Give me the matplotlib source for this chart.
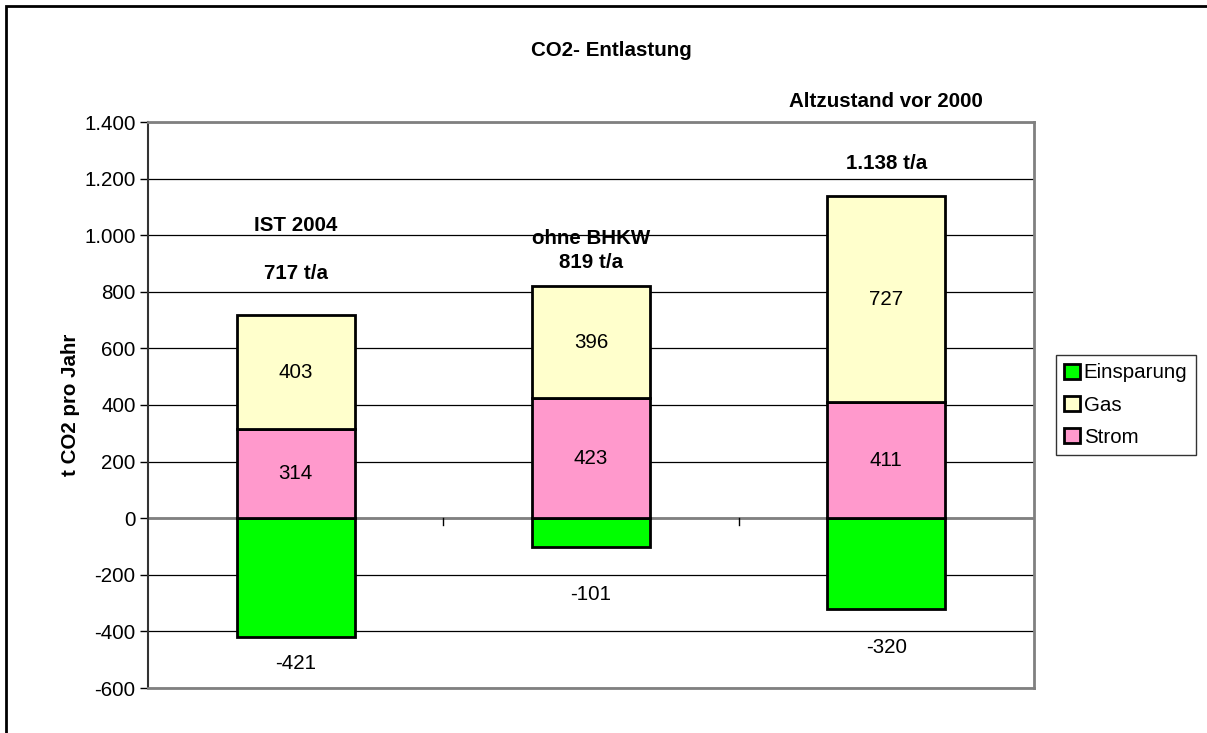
import matplotlib
matplotlib.use("Agg")
import matplotlib.pyplot as plt
from matplotlib.patches import Rectangle

plt.rcParams['font.family'] = ['Liberation Sans', 'DejaVu Sans']

categories = ["IST 2004", "ohne BHKW", "Altzustand vor 2000"]
totals_text = ["717 t/a", "819 t/a", "1.138 t/a"]
einsparung = [-421, -101, -320]
strom = [314, 423, 411]
gas = [403, 396, 727]
yticks = [-600, -400, -200, 0, 200, 400, 600, 800, 1000, 1200, 1400]
ytick_labels = ["-600", "-400", "-200", "0", "200", "400", "600", "800", "1.000", "1.200", "1.400"]

# label positions (data units)
cat_label_y = [1035, 989, 1471]
total_label_y = [865, 904, 1255]
neg_label_offset = [93, 168, 137]

FS = 14.8
W, H = 1207, 733
fig = plt.figure(figsize=(W / 100, H / 100), dpi=100)
fig.patches.append(Rectangle((6 / W, -0.1), 1.2, 1 - 6 / H + 0.1, transform=fig.transFigure,
                             fill=False, edgecolor='black', linewidth=2))

ax = fig.add_axes([148 / W, 1 - 688 / H, 886 / W, 566 / H])
x = list(range(len(categories)))
bw = 0.4
c_green, c_gas, c_strom = '#00FF00', '#FFFFCC', '#FF99CC'

ax.bar(x, einsparung, bw, color=c_green, edgecolor='black', linewidth=2, label='Einsparung', zorder=3)
ax.bar(x, strom, bw, color=c_strom, edgecolor='black', linewidth=2, label='Strom', zorder=3)
ax.bar(x, gas, bw, bottom=strom, color=c_gas, edgecolor='black', linewidth=2, label='Gas', zorder=3)

ax.set_xlim(-0.5, 2.5)
ax.set_ylim(-600, 1400)
ax.set_yticks(yticks)
ax.set_yticklabels(ytick_labels, fontsize=FS)
ax.yaxis.grid(True, color='black', linewidth=0.9, zorder=0)
ax.set_axisbelow(True)
ax.set_xticks([])

for s in ['top', 'right', 'bottom']:
    ax.spines[s].set_color('#808080')
    ax.spines[s].set_linewidth(2)
ax.spines['left'].set_color('#333333')
ax.spines['left'].set_linewidth(1.5)
ax.tick_params(axis='y', length=6, width=1, pad=3)

# zero line and category separators
ax.axhline(0, color='#808080', linewidth=2, zorder=2)
for b in [0.5, 1.5]:
    ax.plot([b, b], [0, -25], color='black', linewidth=1, zorder=2)

for i in x:
    ax.text(i, strom[i] / 2, str(strom[i]), ha='center', va='center', fontsize=FS, zorder=4)
    ax.text(i, strom[i] + gas[i] / 2, str(gas[i]), ha='center', va='center', fontsize=FS, zorder=4)
    ax.text(i, einsparung[i] - neg_label_offset[i], str(einsparung[i]), ha='center', va='center',
            fontsize=FS, zorder=4)
    ax.text(i, cat_label_y[i], categories[i], ha='center', va='center', fontsize=FS,
            fontweight='bold', clip_on=False, zorder=4)
    ax.text(i, total_label_y[i], totals_text[i], ha='center', va='center', fontsize=FS,
            fontweight='bold', clip_on=False, zorder=4)

fig.text(70 / W, 1 - 405 / H, "t CO2 pro Jahr", rotation=90, ha='center', va='center',
         fontsize=FS, fontweight='bold')
fig.text(611 / W, 1 - 50 / H, "CO2- Entlastung", ha='center', va='center', fontsize=FS, fontweight='bold')

h, l = ax.get_legend_handles_labels()
order = [0, 2, 1]
leg = fig.legend([h[k] for k in order], [l[k] for k in order], loc='upper left',
                 bbox_to_anchor=(1056 / W, 1 - 355 / H), fontsize=FS, frameon=True,
                 fancybox=False, edgecolor='black', handlelength=0.75, handleheight=0.75,
                 handletextpad=0.2, borderpad=0.4, labelspacing=0.65, borderaxespad=0)
leg.get_frame().set_linewidth(1)

fig.savefig("out.png", dpi=100)
